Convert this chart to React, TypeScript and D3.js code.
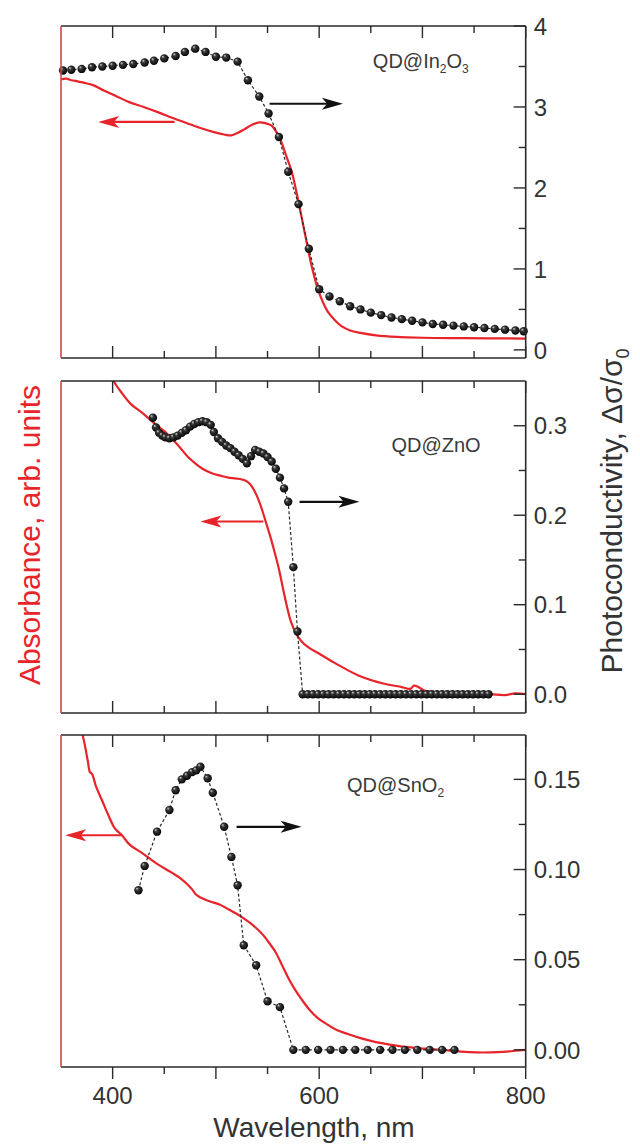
import React, { useEffect, useRef } from 'react';
import * as d3 from 'd3';

// wavelength axis
const xTicks = [400, 500, 600, 700, 800];
const xMinorTicks = [450, 550, 650, 750];
const xTickLabels = [400, 600, 800];

// QD@In2O3
const inPcWl = [352, 360, 370, 380, 390, 400, 410, 420, 431, 440, 450, 461, 470, 480, 490, 500, 510, 521, 531, 542, 551, 561, 570, 580, 590, 600, 610, 620, 630, 640, 650, 660, 670, 680, 690, 700, 710, 720, 730, 740, 750, 760, 770, 780, 790, 798];
const inPc = [3.45, 3.46, 3.47, 3.49, 3.50, 3.51, 3.52, 3.53, 3.55, 3.57, 3.60, 3.63, 3.68, 3.72, 3.68, 3.62, 3.61, 3.56, 3.33, 3.13, 2.92, 2.63, 2.20, 1.80, 1.25, 0.75, 0.66, 0.60, 0.54, 0.50, 0.46, 0.43, 0.40, 0.38, 0.36, 0.34, 0.32, 0.31, 0.30, 0.29, 0.28, 0.27, 0.26, 0.25, 0.24, 0.23];
const inAbsWl = [350, 355, 360, 365, 372, 381, 392, 404, 416, 430, 445, 459, 472, 485, 498, 508, 515, 521, 527, 535, 542, 548, 554, 559, 563, 568, 573, 578, 583, 588, 593, 599, 604, 609, 615, 622, 630, 640, 655, 675, 700, 740, 800];
const inAbs = [3.34, 3.35, 3.33, 3.32, 3.30, 3.27, 3.20, 3.13, 3.06, 3.00, 2.93, 2.86, 2.80, 2.74, 2.69, 2.66, 2.65, 2.68, 2.72, 2.78, 2.81, 2.80, 2.77, 2.68, 2.58, 2.40, 2.22, 1.95, 1.64, 1.32, 1.02, 0.74, 0.58, 0.46, 0.37, 0.29, 0.24, 0.21, 0.18, 0.16, 0.15, 0.145, 0.14];
const inTicks = [0, 1, 2, 3, 4];
const inMinor = [0.5, 1.5, 2.5, 3.5];

// QD@ZnO
const znPcWl = [439, 442, 445, 448, 451, 455, 459, 463, 467, 471, 475, 479, 483, 487, 491, 495, 498, 502, 506, 510, 514, 518, 522, 526, 530, 534, 538, 542, 546, 550, 554, 558, 562, 566, 570, 575, 579, 584, 589, 594, 599, 604, 609, 614, 619, 624, 629, 634, 639, 644, 649, 654, 659, 664, 669, 674, 679, 684, 689, 694, 699, 704, 709, 714, 719, 724, 729, 734, 739, 744, 749, 754, 759, 764];
const znPc = [0.309, 0.298, 0.292, 0.289, 0.287, 0.286, 0.287, 0.289, 0.292, 0.295, 0.299, 0.302, 0.304, 0.305, 0.304, 0.301, 0.293, 0.286, 0.282, 0.278, 0.275, 0.271, 0.267, 0.263, 0.258, 0.266, 0.273, 0.271, 0.269, 0.265, 0.260, 0.252, 0.242, 0.230, 0.215, 0.142, 0.070, 0, 0, 0, 0, 0, 0, 0, 0, 0, 0, 0, 0, 0, 0, 0, 0, 0, 0, 0, 0, 0, 0, 0, 0, 0, 0, 0, 0, 0, 0, 0, 0, 0, 0, 0, 0, 0];
const znAbsWl = [395, 401, 408, 417, 429, 441, 450, 457, 465, 473, 480, 487, 496, 505, 512, 520, 528, 533, 537, 541, 545, 549, 553, 557, 561, 565, 569, 573, 578, 583, 590, 599, 615, 638, 662, 680, 688, 692, 696, 702, 715, 726, 745, 765, 780, 790, 800];
const znAbs = [0.37, 0.35, 0.338, 0.325, 0.314, 0.302, 0.294, 0.286, 0.276, 0.265, 0.258, 0.252, 0.247, 0.244, 0.242, 0.241, 0.239, 0.235, 0.228, 0.218, 0.205, 0.19, 0.175, 0.158, 0.14, 0.118, 0.097, 0.08, 0.067, 0.059, 0.052, 0.046, 0.035, 0.021, 0.012, 0.008, 0.006, 0.0095, 0.008, 0.004, 0.002, 0.001, 0.0, 0.0, -0.001, 0.001, 0.0];
const znTicks = [0, 0.1, 0.2, 0.3];
const znMinor = [0.05, 0.15, 0.25];

// QD@SnO2
const snPcWl = [425, 431, 443, 455, 461, 467, 472, 477, 481, 485, 492, 497, 508, 515, 521, 527, 539, 550, 562, 575, 587, 599, 611, 623, 635, 647, 659, 671, 683, 695, 707, 719, 731];
const snPc = [0.0885, 0.102, 0.121, 0.133, 0.144, 0.150, 0.152, 0.154, 0.155, 0.157, 0.1506, 0.1426, 0.1237, 0.107, 0.0913, 0.058, 0.0469, 0.027, 0.0237, 0, 0, 0, 0, 0, 0, 0, 0, 0, 0, 0, 0, 0, 0];
const snAbsWl = [366, 372, 376, 378, 380, 384, 390, 396, 402, 409, 417, 429, 445, 458, 466, 472, 477, 481, 485, 490, 496, 504, 512, 520, 528, 534, 540, 546, 552, 558, 564, 570, 576, 583, 591, 599, 607, 617, 627, 640, 655, 670, 686, 702, 718, 745, 773, 790, 800];
const snAbs = [0.185, 0.172, 0.16, 0.154, 0.153, 0.146, 0.138, 0.130, 0.123, 0.119, 0.1135, 0.109, 0.1024, 0.098, 0.095, 0.092, 0.089, 0.086, 0.0845, 0.0832, 0.082, 0.0805, 0.078, 0.0755, 0.0725, 0.07, 0.067, 0.0635, 0.059, 0.054, 0.047, 0.04, 0.034, 0.028, 0.022, 0.0175, 0.0144, 0.011, 0.0089, 0.0065, 0.0043, 0.0028, 0.0015, 0.0007, 0.0, -0.0013, -0.0013, -0.0005, 0.0];
const snTicks = [0, 0.05, 0.1, 0.15];
const snMinor = [0.025, 0.075, 0.125];

const RED = '#e8242b';
const INK = '#2a2a2a';
const FONT = '"Liberation Sans", Arial, sans-serif';

type Panel = {
  name: string; sub: string[]; top: number; bottom: number; domain: [number, number];
  ticks: number[]; minor: number[]; fmt: string;
  pcWl: number[]; pc: number[]; absWl: number[]; abs: number[];
  redArrow: [number, number, number]; blackArrow: [number, number, number];
  label: [number, number]; lastPanel: boolean;
};

const panels: Panel[] = [
  { name: 'QD@In', sub: ['2', 'O', '3'], top: 26, bottom: 358, domain: [-0.1, 4.0], ticks: inTicks, minor: inMinor, fmt: '.0f',
    pcWl: inPcWl, pc: inPc, absWl: inAbsWl, abs: inAbs, redArrow: [460, 386, 2.815], blackArrow: [552, 623, 3.04], label: [652, 3.48], lastPanel: false },
  { name: 'QD@ZnO', sub: [], top: 381, bottom: 713, domain: [-0.021, 0.35], ticks: znTicks, minor: znMinor, fmt: '.1f',
    pcWl: znPcWl, pc: znPc, absWl: znAbsWl, abs: znAbs, redArrow: [546, 485, 0.193], blackArrow: [581, 639, 0.215], label: [670, 0.271], lastPanel: false },
  { name: 'QD@SnO', sub: ['2'], top: 735, bottom: 1067, domain: [-0.0095, 0.1746], ticks: snTicks, minor: snMinor, fmt: '.2f',
    pcWl: snPcWl, pc: snPc, absWl: snAbsWl, abs: snAbs, redArrow: [409, 354, 0.119], blackArrow: [520, 583, 0.1237], label: [627, 0.143], lastPanel: true },
];

const App: React.FC = () => {
  const svgRef = useRef<SVGSVGElement>(null);

  useEffect(() => {
    if (!svgRef.current) return;
    document.body.style.margin = '0';
    const svg = d3.select(svgRef.current);
    svg.selectAll('*').remove();

    const x = d3.scaleLinear().domain([350, 800]).range([61, 525.7]);
    const defs = svg.append('defs');
    const grad = defs.append('radialGradient').attr('id', 'ball')
      .attr('cx', '45%').attr('cy', '45%').attr('r', '60%').attr('fx', '32%').attr('fy', '28%');
    grad.append('stop').attr('offset', '0%').attr('stop-color', '#d8d8d8');
    grad.append('stop').attr('offset', '30%').attr('stop-color', '#3a3a3a');
    grad.append('stop').attr('offset', '100%').attr('stop-color', '#000');

    const arrow = (g: any, x1: number, x2: number, yy: number, color: string) => {
      const dir = Math.sign(x2 - x1);
      const len = 21, hw = 6;
      g.append('line').attr('x1', x1).attr('x2', x2 - dir * len * 0.7).attr('y1', yy).attr('y2', yy)
        .attr('stroke', color).attr('stroke-width', 2.2);
      g.append('path')
        .attr('d', `M${x2},${yy} L${x2 - dir * len},${yy - hw} L${x2 - dir * len * 0.75},${yy} L${x2 - dir * len},${yy + hw} Z`)
        .attr('fill', color);
    };

    panels.forEach((p, i) => {
      const y = d3.scaleLinear().domain(p.domain).range([p.bottom, p.top]);
      const absY = d3.scaleLinear().domain(p.domain).range([p.bottom, p.top]);
      const g = svg.append('g');
      const [x0, x1] = x.range();

      defs.append('clipPath').attr('id', `clip${i}`).append('rect')
        .attr('x', x0).attr('y', p.top).attr('width', x1 - x0).attr('height', p.bottom - p.top);

      // absorbance
      const absLine = d3.line<number>().x((_, k) => x(p.absWl[k])).y(d => absY(d)).curve(d3.curveCatmullRom);
      g.append('path').attr('d', absLine(p.abs)).attr('fill', 'none').attr('stroke', RED)
        .attr('stroke-width', 2.2).attr('clip-path', `url(#clip${i})`);

      // photoconductivity
      const pcLine = d3.line<number>().x((_, k) => x(p.pcWl[k])).y(d => y(d));
      g.append('path').attr('d', pcLine(p.pc)).attr('fill', 'none').attr('stroke', INK)
        .attr('stroke-width', 1.2).attr('stroke-dasharray', '3,2.2');
      g.selectAll('circle.pt').data(p.pc).enter().append('circle')
        .attr('cx', (_, k) => x(p.pcWl[k])).attr('cy', d => y(d)).attr('r', 4.2)
        .attr('fill', 'url(#ball)');

      // frame
      g.append('line').attr('x1', x0).attr('x2', x1).attr('y1', p.top).attr('y2', p.top).attr('stroke', INK).attr('stroke-width', 1.6);
      g.append('line').attr('x1', x0).attr('x2', x1).attr('y1', p.bottom).attr('y2', p.bottom).attr('stroke', INK).attr('stroke-width', 1.6);
      g.append('line').attr('x1', x1).attr('x2', x1).attr('y1', p.top).attr('y2', p.bottom).attr('stroke', INK).attr('stroke-width', 1.6);
      g.append('line').attr('x1', x0).attr('x2', x0).attr('y1', p.top).attr('y2', p.bottom).attr('stroke', '#d8434d').attr('stroke-width', 1.6);

      // x ticks
      const bottomDir = p.lastPanel ? 1 : -1;
      xTicks.forEach(t => {
        g.append('line').attr('x1', x(t)).attr('x2', x(t)).attr('y1', p.top).attr('y2', p.top + 12).attr('stroke', INK).attr('stroke-width', 1.4);
        g.append('line').attr('x1', x(t)).attr('x2', x(t)).attr('y1', p.bottom).attr('y2', p.bottom + bottomDir * 12).attr('stroke', INK).attr('stroke-width', 1.4);
      });
      xMinorTicks.forEach(t => {
        g.append('line').attr('x1', x(t)).attr('x2', x(t)).attr('y1', p.top).attr('y2', p.top + 7).attr('stroke', INK).attr('stroke-width', 1.4);
        g.append('line').attr('x1', x(t)).attr('x2', x(t)).attr('y1', p.bottom).attr('y2', p.bottom + bottomDir * 7).attr('stroke', INK).attr('stroke-width', 1.4);
      });

      // right axis
      p.ticks.forEach(t => {
        g.append('line').attr('x1', x1 - 12).attr('x2', x1).attr('y1', y(t)).attr('y2', y(t)).attr('stroke', INK).attr('stroke-width', 1.4);
        g.append('text').attr('x', x1 + 8).attr('y', y(t)).attr('dy', '0.36em')
          .attr('font-family', FONT).attr('font-size', 24).attr('fill', '#333')
          .text(d3.format(p.fmt)(t));
      });
      p.minor.forEach(t => {
        g.append('line').attr('x1', x1 - 7).attr('x2', x1).attr('y1', y(t)).attr('y2', y(t)).attr('stroke', INK).attr('stroke-width', 1.4);
      });

      // arrows
      arrow(g, x(p.redArrow[0]), x(p.redArrow[1]), y(p.redArrow[2]), RED);
      arrow(g, x(p.blackArrow[0]), x(p.blackArrow[1]), y(p.blackArrow[2]), '#111');

      // label
      const lab = g.append('text').attr('x', x(p.label[0])).attr('y', y(p.label[1]))
        .attr('font-family', FONT).attr('font-size', 20).attr('fill', '#3a3a3a');
      lab.append('tspan').text(p.name);
      p.sub.forEach(s => {
        const isSub = /\d/.test(s);
        lab.append('tspan').attr('font-size', isSub ? 12 : 20).attr('dy', isSub ? 5 : -5).text(s);
      });

      if (p.lastPanel) {
        xTickLabels.forEach(t => {
          g.append('text').attr('x', x(t)).attr('y', p.bottom + 28).attr('dy', '0.36em')
            .attr('text-anchor', 'middle').attr('font-family', FONT).attr('font-size', 24).attr('fill', '#333')
            .text(t);
        });
      }
    });

    svg.append('text').attr('x', 314).attr('y', 1137).attr('text-anchor', 'middle')
      .attr('font-family', FONT).attr('font-size', 28).attr('fill', '#333').text('Wavelength, nm');

    svg.append('text').attr('transform', 'translate(40,535) rotate(-90)').attr('text-anchor', 'middle')
      .attr('font-family', FONT).attr('font-size', 30).attr('fill', RED).text('Absorbance, arb. units');

    const rt = svg.append('text').attr('transform', 'translate(622,511) rotate(-90)').attr('text-anchor', 'middle')
      .attr('font-family', FONT).attr('font-size', 30).attr('fill', '#333');
    rt.append('tspan').text('Photoconductivity, Δσ/σ');
    rt.append('tspan').attr('font-size', 18).attr('dy', 7).text('0');
  }, []);

  return <svg ref={svgRef} width={640} height={1147} style={{ display: 'block', background: '#fff' }} />;
};

export default App;
